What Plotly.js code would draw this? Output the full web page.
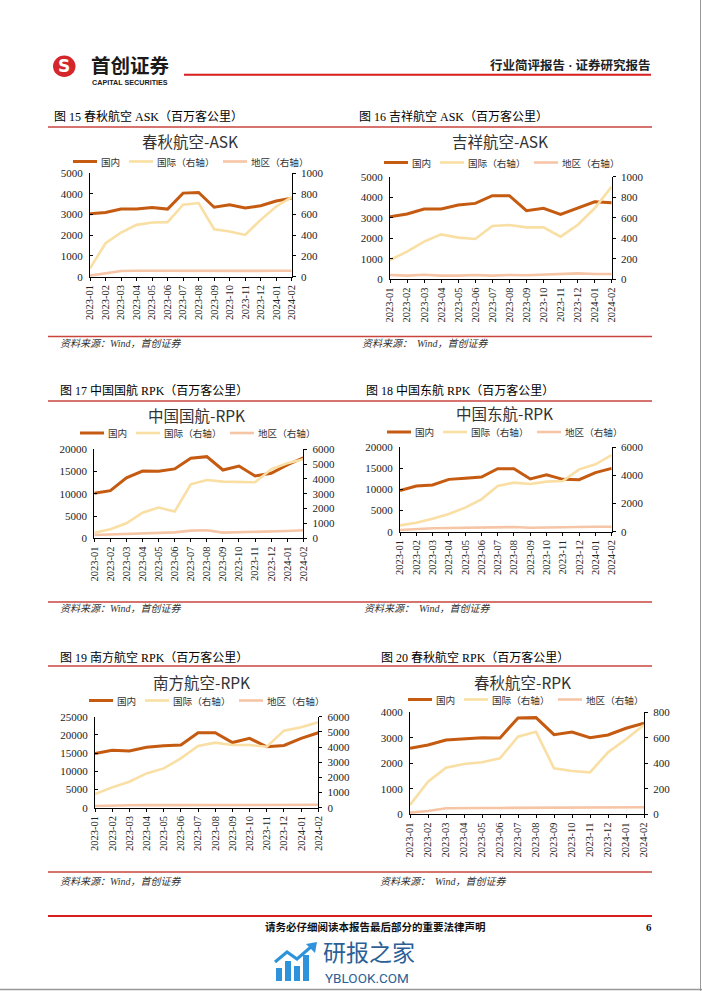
<!DOCTYPE html>
<html><head><meta charset="utf-8">
<script src="https://cdn.plot.ly/plotly-3.0.1.min.js"></script>
<style>html,body{margin:0;padding:0;background:#fff}#chart{width:702px;height:991px}</style>
</head><body><div id="chart"></div><script>
// ---------- data ----------
const months = ['2023-01','2023-02','2023-03','2023-04','2023-05','2023-06','2023-07','2023-08','2023-09','2023-10','2023-11','2023-12','2024-01','2024-02'];
const seriesNames = ['国内','国际（右轴）','地区（右轴）'];

// 图15 春秋航空 ASK
const cqAskDom  = [3030,3100,3260,3260,3340,3260,4030,4060,3350,3470,3310,3420,3650,3790];
const cqAskIntl = [80,323,426,500,523,526,694,710,458,435,403,548,677,768];
const cqAskReg  = [10,30,55,57,56,55,55,55,55,55,55,56,57,57];
// 图16 吉祥航空 ASK
const jxAskDom  = [3050,3180,3425,3425,3620,3700,4075,4075,3345,3460,3165,3460,3780,3730];
const jxAskIntl = [188,270,367,438,406,393,519,529,506,506,416,529,692,903];
const jxAskReg  = [42,36,45,36,36,42,36,42,39,45,58,58,52,52];
// 图17 中国国航 RPK
const caRpkDom  = [10100,10700,13600,15100,15050,15600,18000,18350,15350,16250,14000,14600,16500,18100];
const caRpkIntl = [380,610,1010,1730,2070,1800,3640,3930,3820,3820,3780,4650,5060,5330];
const caRpkReg  = [225,250,290,340,360,400,520,540,380,400,430,470,490,540];
// 图18 中国东航 RPK
const ceRpkDom  = [9720,10830,11070,12400,12650,12960,14940,14940,12500,13500,12400,12330,14000,15000];
const ceRpkIntl = [450,640,925,1260,1710,2300,3250,3490,3390,3560,3600,4430,4790,5450];
const ceRpkReg  = [120,190,240,260,285,310,330,330,285,310,330,330,355,355];
// 图19 南方航空 RPK
const csRpkDom  = [14900,15800,15600,16600,17000,17200,20600,20600,17900,19050,16750,17100,19050,20600];
const csRpkIntl = [900,1340,1710,2260,2590,3250,4070,4290,4130,4130,4020,5080,5300,5630];
const csRpkReg  = [110,150,160,170,170,170,180,180,170,170,170,180,190,190];
// 图20 春秋航空 RPK
const cqRpkDom  = [2590,2720,2915,2967,3006,2993,3778,3791,3124,3229,3006,3111,3373,3569];
const cqRpkIntl = [73,256,366,395,408,439,609,648,361,340,329,486,588,701];
const cqRpkReg  = [13,26,47,50,50,50,50,50,50,50,50,52,54,55];

const captions = ['图 15 春秋航空 ASK（百万客公里）','图 16 吉祥航空 ASK（百万客公里）','图 17 中国国航 RPK（百万客公里）','图 18 中国东航 RPK（百万客公里）','图 19 南方航空 RPK（百万客公里）','图 20 春秋航空 RPK（百万客公里）'];
const chartTitles = ['春秋航空-ASK','吉祥航空-ASK','中国国航-RPK','中国东航-RPK','南方航空-RPK','春秋航空-RPK'];
const sources = ['资料来源：Wind，首创证券','资料来源：  Wind，首创证券','资料来源：Wind，首创证券','资料来源：  Wind，首创证券','资料来源：Wind，首创证券','资料来源：  Wind，首创证券'];
const leftMax  = [5000,5000,20000,20000,25000,4000];
const leftStep = [1000,1000,5000,5000,5000,1000];
const rightMax = [1000,1000,6000,6000,6000,800];
const rightStep= [200,200,1000,2000,1000,200];
const dataSets = [
  [cqAskDom,cqAskIntl,cqAskReg],[jxAskDom,jxAskIntl,jxAskReg],
  [caRpkDom,caRpkIntl,caRpkReg],[ceRpkDom,ceRpkIntl,ceRpkReg],
  [csRpkDom,csRpkIntl,csRpkReg],[cqRpkDom,cqRpkIntl,cqRpkReg]
];

// ---------- layout helpers (pixels on the 702x991 page) ----------
const W=702,H=991;
const px=x=>x/W, py=y=>1-y/H;
const colors=['#C55A11','#F9DFA3','#F6C5A6'];
const widths=[3,2.6,2.6];
const SERIF='Liberation Serif, Noto Sans CJK SC, serif';
const CJK='Noto Sans CJK SC, sans-serif';

// plot boxes: [left, right, top, bottom]
const boxes=[[90,291.7,173,276.7],[390,611.7,176.7,279.3],[94.3,303.3,449.3,538.3],[400,611.7,447.3,531.7],[95,318.3,716.7,807.7],[410,644,712.3,814.3]];
const titlePos=[[190,141.5],[500,141.5],[196,414.5],[504,412.5],[201,681.5],[522,681.5]];
const legendPos=[[189,161.5],[500,162.5],[196,433],[503,432],[205,700.5],[524,699.5]];
const captionPos=[[52,117],[357,117],[58,391],[364,391],[58,657],[379,657]];
const sourcePos=[[58,343.5],[360,343.5],[58,608],[362,608],[58,881],[378,881]];

const traces=[]; const layout={
  width:W,height:H,margin:{l:0,r:0,t:0,b:0},showlegend:false,
  paper_bgcolor:'#fff',plot_bgcolor:'rgba(0,0,0,0)',annotations:[],shapes:[]
};

for(let i=0;i<6;i++){
  const xn=i===0?'x':'x'+(i+1);
  const yl=i===0?'y':'y'+(2*i+1);
  const yr='y'+(2*i+2);
  const b=boxes[i];
  layout[i===0?'xaxis':'xaxis'+(i+1)]={
    domain:[px(b[0]),px(b[1])],anchor:yl,type:'category',categoryorder:'array',categoryarray:months,
    range:[0,13],showline:true,linecolor:'#000',linewidth:1,ticks:'outside',ticklen:3,tickcolor:'#000',
    tickangle:-90,tickfont:{family:SERIF,size:10.5,color:'#222'},showgrid:false,zeroline:false
  };
  layout[i===0?'yaxis':'yaxis'+(2*i+1)]={
    domain:[py(b[3]),py(b[2])],anchor:xn,range:[0,leftMax[i]],tick0:0,dtick:leftStep[i],tickformat:'d',
    showline:true,linecolor:'#000',linewidth:1,ticks:'inside',ticklen:3,tickcolor:'#000',
    tickfont:{family:SERIF,size:11,color:'#222'},showgrid:false,zeroline:false,ticklabelstandoff:4
  };
  layout['yaxis'+(2*i+2)]={
    overlaying:yl,side:'right',anchor:xn,range:[0,rightMax[i]],tick0:0,dtick:rightStep[i],tickformat:'d',
    showline:true,linecolor:'#000',linewidth:1,ticks:'outside',ticklen:3,tickcolor:'#000',
    tickfont:{family:SERIF,size:11,color:'#222'},showgrid:false,zeroline:false,ticklabelstandoff:3
  };
  const ds=dataSets[i];
  for(let s=0;s<3;s++){
    traces.push({type:'scatter',mode:'lines',name:seriesNames[s],x:months,y:ds[s],xaxis:xn,yaxis:s===0?yl:yr,
      line:{color:colors[s],width:widths[s]},hoverinfo:'skip'});
  }
  // chart title
  layout.annotations.push({text:chartTitles[i],xref:'paper',yref:'paper',x:px(titlePos[i][0]),y:py(titlePos[i][1]),
    xanchor:'center',yanchor:'middle',showarrow:false,font:{family:CJK,size:15.5,color:'#333'}});
  // legend (manual, centered)
  const tw=[20,58,58]; let x0=legendPos[i][0]-116; const ly=legendPos[i][1];
  for(let s=0;s<3;s++){
    layout.shapes.push({type:'line',xref:'paper',yref:'paper',x0:px(x0),x1:px(x0+24),y0:py(ly),y1:py(ly),
      line:{color:colors[s],width:s===0?3:2.6}});
    layout.annotations.push({text:seriesNames[s],xref:'paper',yref:'paper',x:px(x0+26),y:py(ly),xanchor:'left',yanchor:'middle',
      showarrow:false,font:{family:CJK,size:9.6,color:'#333'}});
    x0+=24+2+tw[s]+10;
  }
  // caption and source
  layout.annotations.push({text:captions[i],xref:'paper',yref:'paper',x:px(captionPos[i][0]),y:py(captionPos[i][1]),
    xanchor:'left',yanchor:'middle',showarrow:false,font:{family:SERIF,size:12,color:'#000'}});
  layout.annotations.push({text:'<i>'+sources[i]+'</i>',xref:'paper',yref:'paper',x:px(sourcePos[i][0]),y:py(sourcePos[i][1]),
    xanchor:'left',yanchor:'middle',showarrow:false,font:{family:SERIF,size:10,color:'#333'}});
}

// section rules
[127,336.5,401,602,666,872].forEach(y=>{
  layout.shapes.push({type:'line',xref:'paper',yref:'paper',x0:px(48),x1:px(652),y0:py(y),y1:py(y),line:{color:'#C9443F',width:1.5}});
});
// header
layout.shapes.push({type:'line',xref:'paper',yref:'paper',x0:px(184),x1:px(651),y0:py(74.8),y1:py(74.8),line:{color:'#D81E1E',width:2}});
layout.shapes.push({type:'circle',xref:'paper',yref:'paper',x0:px(53),x1:px(75.5),y0:py(77),y1:py(55.5),fillcolor:'#D5262C',line:{width:0}});
layout.annotations.push({text:'<b>S</b>',xref:'paper',yref:'paper',x:px(64.3),y:py(66.5),xanchor:'center',yanchor:'middle',showarrow:false,
  font:{family:'DejaVu Sans, sans-serif',size:17,color:'#fff'}});
layout.annotations.push({text:'<b>首创证券</b>',xref:'paper',yref:'paper',x:px(89),y:py(64.5),xanchor:'left',yanchor:'middle',showarrow:false,
  font:{family:CJK,size:19.5,color:'#1a1a1a'}});
layout.annotations.push({text:'<b>CAPITAL SECURITIES</b>',xref:'paper',yref:'paper',x:px(90),y:py(82.5),xanchor:'left',yanchor:'middle',showarrow:false,
  font:{family:'Liberation Sans, Arial, sans-serif',size:7.2,color:'#1a1a1a'}});
layout.annotations.push({text:'<b>行业简评报告 · 证券研究报告</b>',xref:'paper',yref:'paper',x:px(652),y:py(65.5),xanchor:'right',yanchor:'middle',showarrow:false,
  font:{family:SERIF,size:12.5,color:'#222'}});
// footer
layout.shapes.push({type:'line',xref:'paper',yref:'paper',x0:px(48),x1:px(652),y0:py(916),y1:py(916),line:{color:'#D81E1E',width:2}});
layout.annotations.push({text:'<b>请务必仔细阅读本报告最后部分的重要法律声明</b>',xref:'paper',yref:'paper',x:px(375),y:py(926.5),xanchor:'center',yanchor:'middle',showarrow:false,
  font:{family:SERIF,size:10.5,color:'#111'}});
layout.annotations.push({text:'<b>6</b>',xref:'paper',yref:'paper',x:px(649),y:py(926.5),xanchor:'center',yanchor:'middle',showarrow:false,
  font:{family:SERIF,size:11,color:'#111'}});
// watermark
const wmBars=[[276,282,968],[285,291,961],[294,300,966],[303,309,955]];
wmBars.forEach(b=>layout.shapes.push({type:'rect',xref:'paper',yref:'paper',x0:px(b[0]),x1:px(b[1]),y0:py(981),y1:py(b[2]),fillcolor:'#2E93DB',line:{width:0}}));
layout.shapes.push({type:'path',xref:'paper',yref:'paper',
  path:`M ${px(275)} ${py(962)} L ${px(287)} ${py(952)} L ${px(297)} ${py(959)} L ${px(312)} ${py(946)}`,line:{color:'#2E93DB',width:3}});
layout.shapes.push({type:'path',xref:'paper',yref:'paper',
  path:`M ${px(306)} ${py(944)} L ${px(317)} ${py(942)} L ${px(315)} ${py(953)} Z`,fillcolor:'#2E93DB',line:{width:0}});
layout.annotations.push({text:'研报之家',xref:'paper',yref:'paper',x:px(321),y:py(951),xanchor:'left',yanchor:'middle',showarrow:false,
  font:{family:CJK,size:23,color:'#2C5F96'}});
layout.annotations.push({text:'YBLOOK.COM',xref:'paper',yref:'paper',x:px(323),y:py(977.5),xanchor:'left',yanchor:'middle',showarrow:false,
  font:{family:'Roboto, sans-serif',size:13.5,color:'#2C5F96'}});
// page border
layout.shapes.push({type:'line',xref:'paper',yref:'paper',x0:px(700.5),x1:px(700.5),y0:py(0),y1:py(991),line:{color:'#999',width:1}});
layout.shapes.push({type:'line',xref:'paper',yref:'paper',x0:px(0),x1:px(702),y0:py(989.5),y1:py(989.5),line:{color:'#999',width:1.5}});

Plotly.newPlot('chart',traces,layout,{displayModeBar:false,staticPlot:true});
</script></body></html>
